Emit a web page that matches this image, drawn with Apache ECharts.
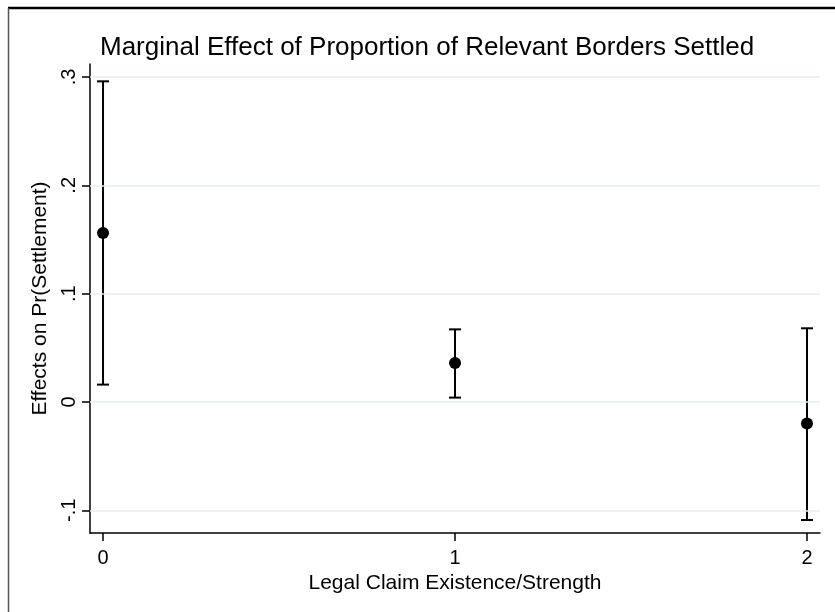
<!DOCTYPE html>
<html>
<head>
<meta charset="utf-8">
<script src="https://cdn.jsdelivr.net/npm/echarts@6/dist/echarts.min.js"></script>
<style>
  html, body { margin: 0; padding: 0; background: #fff; }
  #chart { width: 835px; height: 612px; }
</style>
</head>
<body>
<div id="chart"></div>
<script>
// Legal claim categories on the x axis
const categories = [0, 1, 2];
// Marginal effect point estimates and 95% confidence bounds
const estimates = [0.156, 0.036, -0.020];
const lowerBounds = [0.016, 0.004, -0.109];
const upperBounds = [0.296, 0.067, 0.068];
// Axis tick values and labels
const yTicks = [-0.1, 0, 0.1, 0.2, 0.3];
const yTickLabels = ['-.1', '0', '.1', '.2', '.3'];
const xTicks = [0, 1, 2];

const FONT = '"Liberation Sans", Arial, sans-serif';
const chart = echarts.init(document.getElementById('chart'), null, { renderer: 'canvas' });

const ciData = categories.map((c, i) => [c, lowerBounds[i], upperBounds[i]]);
const pointData = categories.map((c, i) => [c, estimates[i]]);

chart.setOption({
  animation: false,
  backgroundColor: '#ffffff',
  title: {
    text: 'Marginal Effect of Proportion of Relevant Borders Settled',
    left: 95,
    top: 30,
    textStyle: { fontFamily: FONT, fontSize: 26, fontWeight: 'normal', color: '#000' }
  },
  graphic: [
    { type: 'line', shape: { x1: 8, y1: 8, x2: 835, y2: 8 }, style: { stroke: '#000', lineWidth: 2.5 } },
    { type: 'line', shape: { x1: 8.5, y1: 8, x2: 8.5, y2: 612 }, style: { stroke: '#555', lineWidth: 1.5 } }
  ],
  grid: { left: 90, right: 15, top: 64, bottom: 79 },
  xAxis: {
    type: 'value',
    min: -0.037,
    max: 2.037,
    name: 'Legal Claim Existence/Strength',
    nameLocation: 'middle',
    nameGap: 34,
    nameTextStyle: { fontFamily: FONT, fontSize: 21, color: '#000' },
    axisLine: { show: true, onZero: false, lineStyle: { color: '#000', width: 1.5 } },
    axisTick: { show: true, customValues: xTicks, length: 8, lineStyle: { color: '#000', width: 1.5 } },
    axisLabel: {
      customValues: xTicks,
      margin: 15,
      fontFamily: FONT, fontSize: 20, color: '#000',
      formatter: v => String(v)
    },
    splitLine: { show: false }
  },
  yAxis: {
    type: 'value',
    min: -0.121,
    max: 0.312,
    name: 'Effects on Pr(Settlement)',
    nameLocation: 'middle',
    nameGap: 37,
    nameRotate: 90,
    nameTextStyle: { fontFamily: FONT, fontSize: 21, color: '#000' },
    axisLine: { show: true, onZero: false, lineStyle: { color: '#000', width: 1.5 } },
    axisTick: { show: true, customValues: yTicks, length: 8, lineStyle: { color: '#000', width: 1.5 } },
    axisLabel: {
      customValues: yTicks,
      rotate: 90,
      margin: 11,
      fontFamily: FONT, fontSize: 20, color: '#000',
      formatter: v => {
        const idx = yTicks.findIndex(t => Math.abs(t - v) < 1e-9);
        return idx >= 0 ? yTickLabels[idx] : '';
      }
    },
    splitLine: { show: false }
  },
  series: [
    {
      // horizontal reference grid at each labelled y tick
      type: 'line',
      data: [],
      silent: true,
      markLine: {
        silent: true,
        symbol: 'none',
        label: { show: false },
        lineStyle: { color: '#e4eef0', width: 1.5, type: 'solid' },
        data: yTicks.map(t => ({ yAxis: t }))
      }
    },
    {
      type: 'custom',
      data: ciData,
      z: 3,
      renderItem: (params, api) => {
        const x = api.value(0);
        const lo = api.coord([x, api.value(1)]);
        const hi = api.coord([x, api.value(2)]);
        const cap = 6;
        const style = { stroke: '#000', lineWidth: 2 };
        return {
          type: 'group',
          children: [
            { type: 'line', shape: { x1: lo[0], y1: lo[1], x2: hi[0], y2: hi[1] }, style },
            { type: 'line', shape: { x1: lo[0] - cap, y1: lo[1], x2: lo[0] + cap, y2: lo[1] }, style },
            { type: 'line', shape: { x1: hi[0] - cap, y1: hi[1], x2: hi[0] + cap, y2: hi[1] }, style }
          ]
        };
      }
    },
    {
      type: 'scatter',
      data: pointData,
      z: 4,
      symbol: 'circle',
      symbolSize: 12,
      itemStyle: { color: '#000', opacity: 1 }
    }
  ]
});
</script>
</body>
</html>
